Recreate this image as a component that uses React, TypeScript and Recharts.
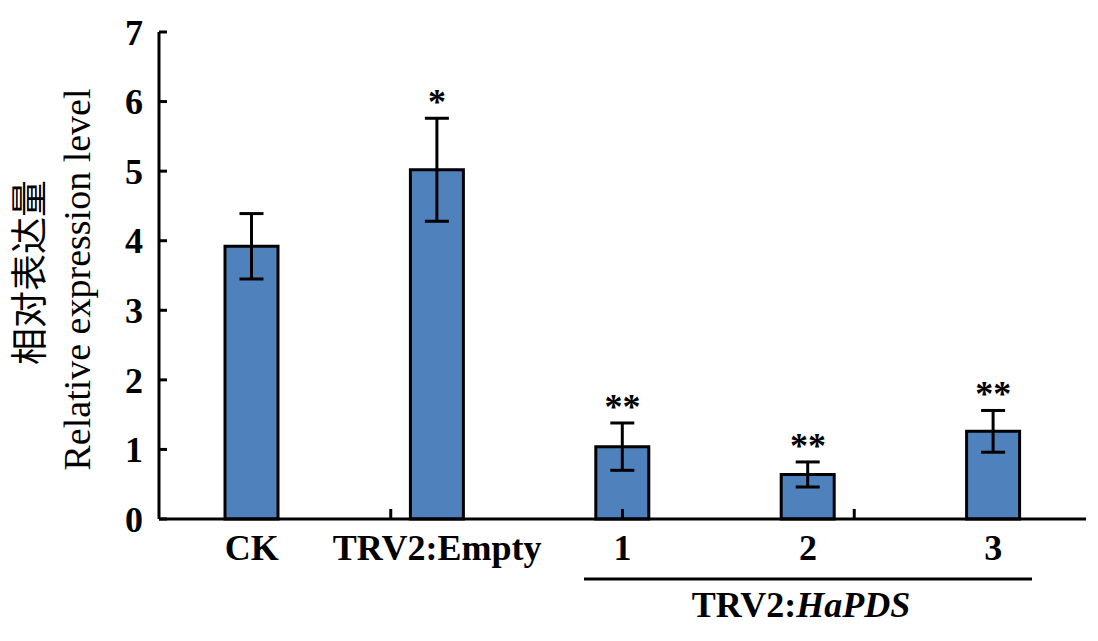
import React from 'react';
import { ComposedChart, Bar, Line, XAxis, YAxis, ErrorBar, LabelList } from 'recharts';

const categories = ['CK', 'TRV2:Empty', '1', '2', '3'];
const values = [3.92, 5.02, 1.04, 0.64, 1.26];
const errors = [0.47, 0.74, 0.34, 0.18, 0.3];
const marks = ['', '*', '**', '**', '**'];
const yTicks = [0, 1, 2, 3, 4, 5, 6, 7];
const boundaryTicks = [1, 2, 3, 4, 5];
const groupLabelPrefix = 'TRV2:';
const groupLabelItalic = 'HaPDS';
const yLabelZh = '相对表达量';
const yLabelEn = 'Relative expression level';

const data = categories.map((c, i) => ({
  name: c,
  value: values[i],
  err: errors[i],
  top: values[i] + errors[i],
  mark: marks[i],
}));

const SERIF = '"Liberation Serif", "Times New Roman", serif';
const CJK = '"Noto Sans CJK SC", sans-serif';

const YLabel = (props: any) => {
  const vb = props.viewBox || {};
  const cy = (vb.y || 0) + (vb.height || 0) / 2;
  return (
    <g>
      <text
        x={27}
        y={cy - 3}
        transform={`rotate(-90, 27, ${cy - 3})`}
        textAnchor="middle"
        dominantBaseline="central"
        fontFamily={CJK}
        fontSize={37}
        fill="#000"
      >
        {yLabelZh}
      </text>
      <text
        x={77}
        y={cy + 4}
        transform={`rotate(-90, 77, ${cy + 4})`}
        textAnchor="middle"
        dominantBaseline="central"
        fontFamily={SERIF}
        fontSize={38}
        fill="#000"
      >
        {yLabelEn}
      </text>
    </g>
  );
};

const EmptyTick = () => <g />;

export default function App() {
  return (
    <div style={{ position: 'absolute', left: 0, top: 0, width: 1098, height: 641, background: '#fff' }}>
      <ComposedChart
        width={1098}
        height={641}
        data={data}
        margin={{ top: 32, right: 12, bottom: 61, left: 99 }}
      >
        <XAxis
          xAxisId="bound"
          type="number"
          domain={[0, 5]}
          ticks={boundaryTicks}
          allowDataOverflow
          height={1}
          tick={EmptyTick}
          tickSize={-10}
          tickLine={{ stroke: '#000', strokeWidth: 3 }}
          axisLine={{ stroke: '#000', strokeWidth: 3 }}
        />
        <XAxis
          xAxisId="cat"
          dataKey="name"
          type="category"
          height={60}
          axisLine={false}
          tickLine={false}
          tickSize={0}
          tickMargin={14}
          interval={0}
          tick={{ fontFamily: SERIF, fontSize: 36, fontWeight: 'bold', fill: '#000' }}
        />
        <YAxis
          type="number"
          domain={[0, 7]}
          ticks={yTicks}
          width={60}
          interval={0}
          tickSize={-8}
          tickMargin={24}
          tickLine={{ stroke: '#000', strokeWidth: 3 }}
          axisLine={{ stroke: '#000', strokeWidth: 3 }}
          tick={{ fontFamily: SERIF, fontSize: 36, fontWeight: 'bold', fill: '#000' }}
          label={{ content: YLabel }}
        />
        <Bar
          xAxisId="cat"
          dataKey="value"
          fill="#4F81BD"
          stroke="#000"
          strokeWidth={3}
          barSize={53}
          isAnimationActive={false}
        >
          <ErrorBar dataKey="err" direction="y" width={12} stroke="#000" strokeWidth={3} isAnimationActive={false} />
        </Bar>
        <Line
          xAxisId="cat"
          dataKey="top"
          stroke="none"
          dot={false}
          activeDot={false}
          legendType="none"
          isAnimationActive={false}
        >
          <LabelList
            dataKey="mark"
            position="top"
            offset={4}
            style={{ fontFamily: SERIF, fontSize: 36, fontWeight: 'bold', fill: '#000' }}
          />
        </Line>
      </ComposedChart>
      <svg
        width={1098}
        height={641}
        style={{ position: 'absolute', left: 0, top: 0, pointerEvents: 'none' }}
      >
        <line x1={584} y1={579} x2={1032} y2={579} stroke="#000" strokeWidth={3} />
        <text x={801} y={617} textAnchor="middle" fontFamily={SERIF} fontSize={36} fontWeight="bold" fill="#000">
          {groupLabelPrefix}
          <tspan fontStyle="italic">{groupLabelItalic}</tspan>
        </text>
      </svg>
    </div>
  );
}
